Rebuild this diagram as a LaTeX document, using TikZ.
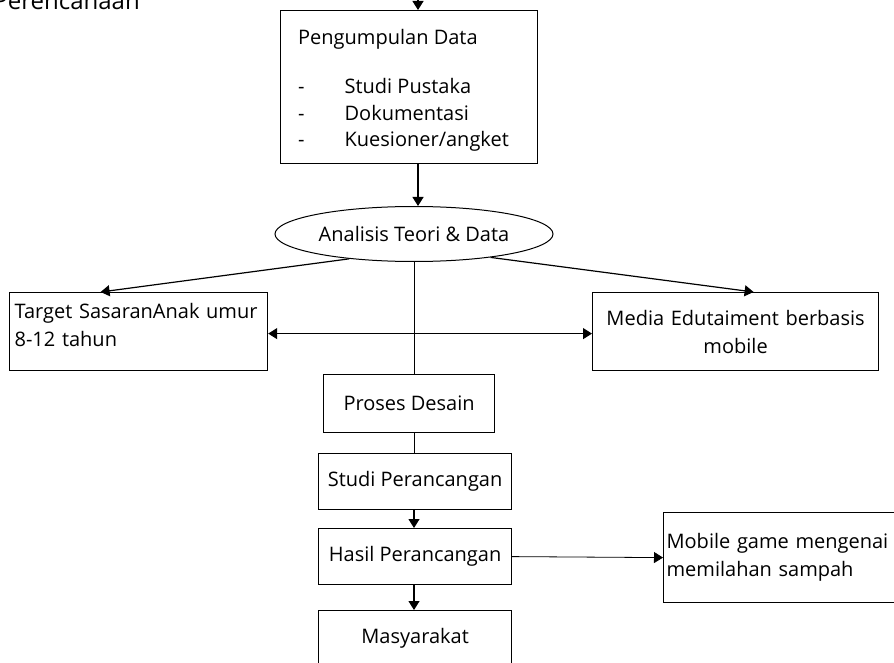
\documentclass[tikz,border=0pt]{standalone}
\usepackage{fontspec}
\setmainfont{Open Sans}
\usetikzlibrary{arrows.meta,shapes.geometric,calc}

\tikzset{
  kotak/.style={draw, line width=1.2pt, rectangle, inner sep=0pt, anchor=north west},
  panah/.style={-{Triangle[length=9pt,width=11pt]}, line width=1.2pt},
  garis/.style={line width=1pt},
  every node/.style={font=\fontsize{20}{28}\selectfont}
}

\begin{document}
\begin{tikzpicture}[x=1pt,y=-1pt]
  \useasboundingbox (0,0) rectangle (894,663);

  % Judul (terpotong di atas)
  \node[anchor=base east, inner sep=0pt, font=\fontsize{24}{28}\selectfont] (judul)
    at (140,10) {Perencanaan};
  \coordinate (atas) at (418,-30);

  % Pengumpulan data
  \node[kotak, minimum width=257, minimum height=153] (pd) at (280,10) {};
  \node[anchor=base west, inner sep=0pt] (pdteks) at (298,45)
    {\begin{tabular}[t]{@{}l@{\hspace{40pt}}l@{}}
       \multicolumn{2}{@{}l}{Pengumpulan Data}\\[21pt]
       - & Studi Pustaka\\[-1.5pt]
       - & Dokumentasi\\[-1.5pt]
       - & Kuesioner/angket
     \end{tabular}};

  % Analisis
  \node[draw, ellipse, line width=1pt, inner sep=0pt, minimum width=278, minimum height=55]
    (an) at (414,234) {Analisis Teori \& Data};

  % Target dan media
  \node[kotak, minimum width=258, minimum height=78, text width=248, inner xsep=5pt,
        align=left] (tg) at (9,292) {Target SasaranAnak umur\\8-12 tahun\\[-14pt]\mbox{}};
  \node[kotak, minimum width=286, minimum height=78, text width=268, inner xsep=9pt,
        align=center] (md) at (592,292) {Media Edutaiment berbasis\\mobile};

  % Proses
  \node[kotak, minimum width=171, minimum height=58] (ps) at (323,374) {Proses Desain};
  \node[kotak, minimum width=193, minimum height=56] (sp) at (318,453) {Studi Perancangan};
  \node[kotak, minimum width=193, minimum height=56] (hp) at (318,528) {Hasil Perancangan};
  \node[kotak, minimum width=193, minimum height=56] (ms) at (318,610) {Masyarakat};
  \node[kotak, minimum height=90, text width=260, inner xsep=3pt, align=left]
    (mg) at (663,512) {Mobile game mengenai\\memilahan sampah};

  % Panah
  \draw[panah] (atas) -- (atas |- pd.north);
  \draw[panah] (atas |- pd.south) -- (atas |- an.north);
  \draw[panah] (an.201) -- ([xshift=-38pt]tg.north);
  \draw[panah] (an.343) -- ([xshift=18pt]md.north);
  \draw[panah, {Triangle[length=9pt,width=11pt]}-{Triangle[length=9pt,width=11pt]}]
    ([yshift=-2pt]tg.east) -- ([yshift=-2pt]md.west);
  \draw[garis] (an.south) -- (an.south |- ps.north);
  \draw[garis] (an.south |- ps.south) -- (an.south |- sp.north);
  \draw[panah] (an.south |- sp.south) -- (an.south |- hp.north);
  \draw[panah] (an.south |- hp.south) -- (an.south |- ms.north);
  \draw[panah, line width=0.8pt] (hp.east) -- (mg.west);
\end{tikzpicture}
\end{document}
